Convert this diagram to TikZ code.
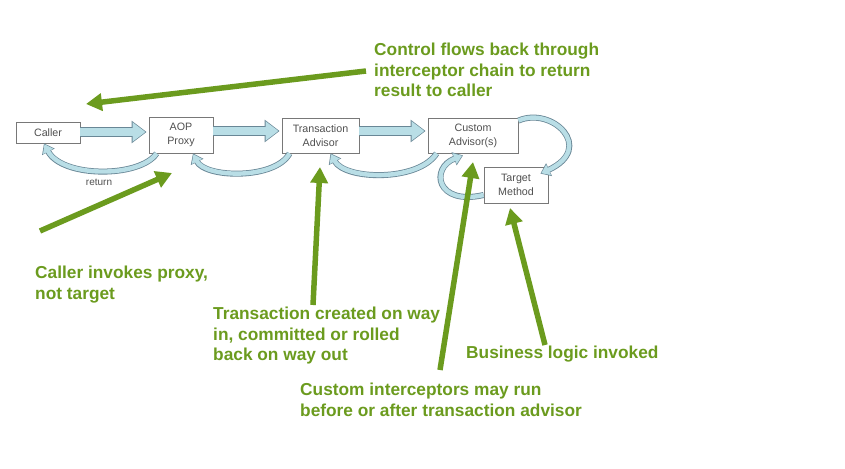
\documentclass[tikz,border=0pt]{standalone}
\usepackage{fontspec}
\setmainfont{Liberation Sans}
\usetikzlibrary{arrows.meta}
\definecolor{grn}{RGB}{107,155,30}
\definecolor{ribfill}{RGB}{185,222,230}
\definecolor{ribedge}{RGB}{105,135,150}
\definecolor{boxedge}{RGB}{120,120,120}
\definecolor{boxtext}{RGB}{80,80,80}
\tikzset{
  box/.style={draw=boxedge, line width=0.8pt, fill=white, inner sep=0pt, align=center,
    font=\fontsize{10.7}{14}\selectfont, text=boxtext},
  note/.style={anchor=north west, inner sep=0pt, align=left, text=grn,
    font=\bfseries\fontsize{17.3}{20.5}\selectfont},
  blockout/.style={draw=ribedge, line width=10pt, -{Triangle[length=15pt,width=21.6pt]}},
  blockin/.style={draw=ribfill, line width=8.2pt, shorten >=1.1pt, -{Triangle[length=13pt,width=18.6pt]}},
  ribout/.style={draw=ribedge, line width=6pt, -{Triangle[length=9.5pt,width=13.5pt]}},
  ribin/.style={draw=ribfill, line width=4.4pt, shorten >=1pt, -{Triangle[length=8pt,width=11pt]}},
  grnarrow/.style={draw=grn, line width=5.5pt, -{Triangle[length=16pt,width=17pt]}},
}
\begin{document}
\begin{tikzpicture}[x=1pt,y=-1pt]
\useasboundingbox (0,0) rectangle (845,468);

% boxes
\node[box, minimum width=64pt, minimum height=21pt] (caller) at (48,132.5) {Caller};
\node[box, minimum width=64pt, minimum height=36pt] (aop) at (181,135) {AOP\\Proxy};
\node[box, minimum width=77pt, minimum height=35pt] (trans) at (320.5,135.5) {Transaction\\Advisor};
\node[box, minimum width=90pt, minimum height=35pt] (custom) at (473,135.5) {Custom\\Advisor(s)};
\node[box, minimum width=64pt, minimum height=36pt] (target) at (516,185) {Target\\Method};

% forward block arrows
\foreach \a/\b/\y in {caller/aop/132, aop/trans/131, trans/custom/131}{
  \draw[blockout] (\a.east |- 0,\y) -- ([xshift=-2pt]\b.west |- 0,\y);
  \draw[blockin] ([xshift=-0.5pt]\a.east |- 0,\y) -- ([xshift=-2pt]\b.west |- 0,\y);
}

% curved return ribbons (note: yshift is in canvas direction, positive = up)
\foreach \s in {ribout, ribin}{
  \draw[\s] ([xshift=8pt]aop.south west) .. controls (140,178) and (62,178) .. ([xshift=-4pt]caller.south);
  \draw[\s] ([xshift=8pt]trans.south west) .. controls (275,180) and (205,178) .. ([xshift=12pt]aop.south);
  \draw[\s] ([xshift=9pt]custom.south west) .. controls (418,182) and (345,180) .. ([xshift=10pt]trans.south);
  \draw[\s] ([yshift=-3pt]custom.north east) .. controls (552,106) and (596,148) .. ([xshift=-8pt,yshift=-7pt]target.north east);
  \draw[\s] ([yshift=-10pt]target.west) .. controls (436,206) and (430,168) .. ([xshift=-10pt,yshift=-2pt]custom.south);
}
\node[font=\fontsize{10}{12}\selectfont, text=boxtext] (ret) at (99,182) {return};

% green labels
\node[note] (ctl) at (374,43) {Control flows back through\\interceptor chain to return\\result to caller};
\node[note] (inv) at (35,266) {Caller invokes proxy,\\not target};
\node[note] (txn) at (213,307) {Transaction created on way\\in, committed or rolled\\back on way out};
\node[note] (biz) at (466,346) {Business logic invoked};
\node[note] (cst) at (300,383) {Custom interceptors may run\\before or after transaction advisor};

% green arrows
\coordinate (c1) at (366,71);  \coordinate (c1t) at (86,104);
\coordinate (c2) at (40,231);  \coordinate (c2t) at (172,173);
\coordinate (c3) at (313,305); \coordinate (c3t) at (320,167);
\coordinate (c4) at (440,370); \coordinate (c4t) at (473,162);
\coordinate (c5) at (545,345); \coordinate (c5t) at (510,208);
\draw[grnarrow] (c1) -- (c1t);
\draw[grnarrow] (c2) -- (c2t);
\draw[grnarrow] (c3) -- (c3t);
\draw[grnarrow] (c4) -- (c4t);
\draw[grnarrow] (c5) -- (c5t);
\end{tikzpicture}
\end{document}
